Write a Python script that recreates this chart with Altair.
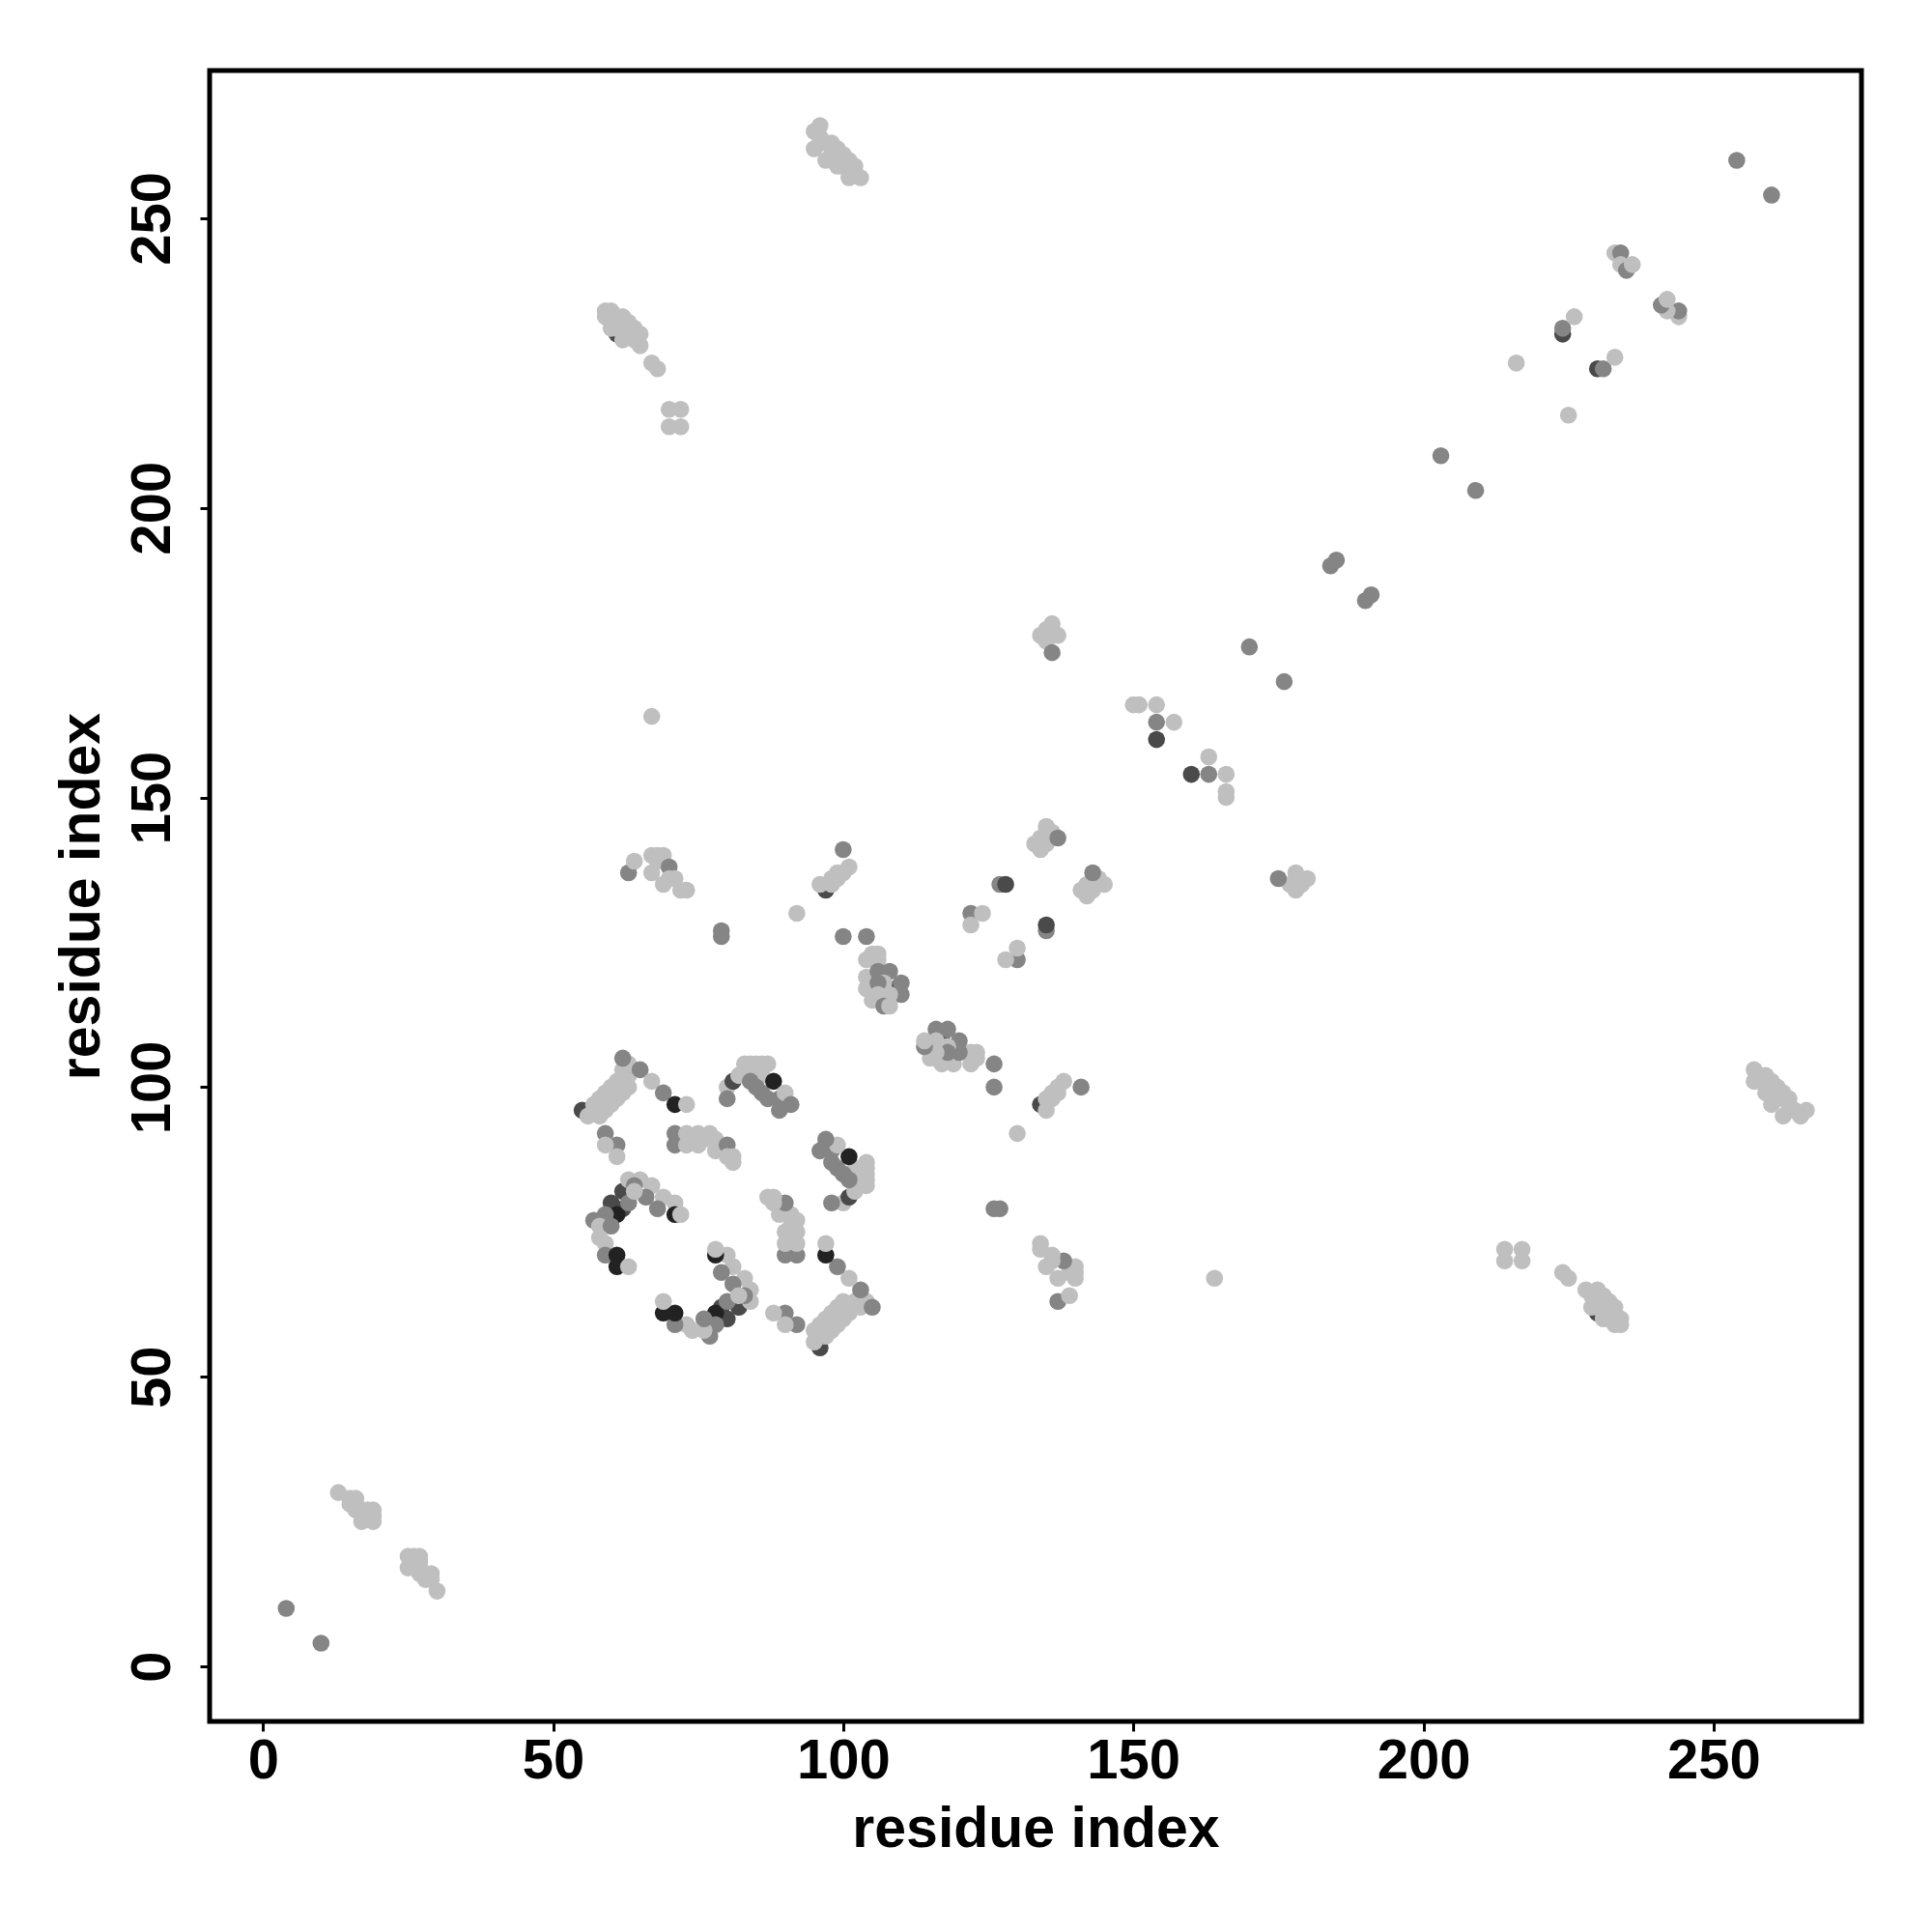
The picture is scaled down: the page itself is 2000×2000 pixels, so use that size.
import altair as alt
import pandas as pd

# Contact map: each contact (i, j, grey level) listed once with i < j; the map is symmetric.
# grey level: 1 = black, 2 = dark grey, 3 = mid grey, 4 = light grey
contacts_nterm = [
    (4, 10, 3),
    (13, 30, 4), (15, 29, 4), (15, 28, 4), (16, 29, 4), (16, 28, 4), (16, 27, 4), (17, 27, 4),
    (17, 25, 4), (18, 27, 4), (19, 27, 4), (19, 26, 4), (19, 25, 4),
]
contacts_a = [
    (55, 96, 2), (56, 95, 4), (57, 96, 4), (58, 97, 4), (59, 98, 4), (60, 99, 4), (61, 100, 4),
    (62, 101, 4), (63, 102, 4), (64, 103, 4), (58, 95, 4), (59, 96, 4), (60, 97, 4), (61, 98, 4),
    (62, 99, 4), (63, 100, 4), (57, 97, 4), (58, 98, 4), (59, 99, 4), (60, 100, 4), (61, 101, 4),
    (62, 103, 4), (63, 104, 4), (62, 105, 3), (65, 103, 3), (67, 101, 4), (69, 99, 3), (71, 97, 1),
    (73, 97, 4),
]
contacts_b = [(59, 92, 3), (61, 90, 3), (59, 90, 4), (61, 88, 4)]
contacts_c = [
    (71, 92, 3), (71, 90, 3), (73, 92, 4), (74, 91, 4), (75, 92, 4), (76, 91, 4), (77, 92, 4),
    (78, 91, 4), (73, 90, 4), (75, 90, 4), (78, 89, 4), (80, 90, 3), (80, 88, 4), (81, 88, 4),
    (81, 87, 4),
]
contacts_d = [
    (80, 100, 4), (80, 98, 3), (81, 101, 2), (82, 102, 4), (83, 104, 4), (84, 104, 4), (85, 104, 4),
    (86, 104, 4), (87, 104, 4), (83, 102, 4), (85, 102, 4), (86, 102, 4), (84, 101, 3), (85, 100, 3),
    (86, 99, 3), (87, 98, 3), (89, 98, 3), (90, 97, 3), (88, 101, 1), (90, 99, 4), (91, 97, 3),
    (89, 96, 3),
]
contacts_f = [
    (62, 82, 2), (62, 79, 2), (60, 80, 2), (61, 78, 1), (59, 78, 3), (57, 77, 3), (63, 80, 3),
    (65, 84, 4), (63, 84, 4), (67, 83, 4), (64, 83, 3), (69, 81, 4), (71, 80, 4), (71, 78, 1),
    (72, 78, 4), (68, 79, 3), (66, 81, 3), (64, 82, 4), (58, 76, 4), (60, 76, 3), (58, 74, 4),
    (59, 73, 4), (59, 71, 3), (61, 71, 1), (61, 69, 1), (63, 69, 4),
]
contacts_mid = [
    (67, 164, 4), (79, 127, 3), (79, 126, 3), (92, 130, 4),
    (63, 137, 3), (64, 139, 4), (67, 140, 4), (68, 140, 4), (68, 139, 4), (67, 137, 4), (69, 140, 4),
    (70, 138, 3), (70, 136, 4), (69, 135, 4), (71, 136, 4), (72, 134, 4), (73, 134, 4),
    (97, 134, 2), (96, 135, 4), (98, 136, 4), (98, 135, 4), (99, 137, 4), (99, 136, 4), (100, 137, 4),
    (101, 138, 4), (100, 141, 3),
    (100, 126, 3), (104, 126, 3),
    (109, 117, 2), (105, 117, 2),
    (104, 122, 4), (104, 119, 4), (104, 117, 4), (105, 123, 4), (106, 123, 4), (106, 122, 4),
    (106, 120, 3), (108, 120, 3), (110, 118, 3), (110, 116, 3), (107, 118, 4), (106, 118, 3),
    (108, 116, 4), (106, 116, 4), (105, 115, 4), (107, 114, 3), (108, 114, 4),
    (122, 130, 3), (124, 130, 4), (122, 128, 4), (127, 135, 3), (128, 135, 2),
    (133, 142, 4), (134, 141, 4), (134, 143, 4), (135, 142, 4), (135, 145, 4), (136, 144, 4),
    (137, 143, 3),
    (134, 178, 4), (135, 177, 4), (135, 179, 4), (136, 180, 4), (137, 178, 4), (136, 175, 3),
    (150, 166, 4), (151, 166, 4), (154, 166, 4), (154, 163, 3), (157, 163, 4), (154, 160, 2),
    (170, 176, 3), (184, 190, 3), (185, 191, 3), (203, 209, 3), (216, 225, 4),
    (224, 230, 2), (224, 231, 3), (226, 233, 4),
    (233, 244, 4), (234, 244, 3), (234, 242, 4), (235, 241, 3), (236, 242, 4), (254, 260, 3),
]
contacts_long = [
    (61, 230, 2),
    (95, 265, 4), (95, 262, 4), (96, 266, 4), (96, 264, 4), (96, 263, 4), (97, 263, 4), (97, 260, 4),
    (98, 263, 4), (98, 261, 4), (99, 262, 4), (99, 259, 4), (100, 261, 4), (100, 259, 4),
    (101, 260, 4), (101, 257, 4), (102, 259, 4), (102, 258, 4), (103, 257, 4),
    (59, 234, 4), (59, 233, 4), (60, 234, 4), (60, 232, 4), (61, 233, 4), (62, 233, 4), (62, 231, 4),
    (63, 232, 4), (63, 230, 4), (64, 231, 4), (64, 229, 4), (65, 230, 4), (65, 228, 4), (61, 231, 4),
    (62, 229, 4), (60, 231, 4),
    (67, 225, 4), (68, 224, 4),
    (70, 217, 4), (72, 217, 4), (70, 214, 4), (72, 214, 4),
]

tick_values = [0, 50, 100, 150, 200, 250]
grey_levels = [1, 2, 3, 4]
grey_colors = ["#222222", "#4a4a4a", "#858585", "#bfbfbf"]

all_contacts = (contacts_nterm + contacts_a + contacts_b + contacts_c + contacts_d
                + contacts_f + contacts_mid + contacts_long)
rows = []
for i, j, lv in all_contacts:
    rows.append({"x": i, "y": j, "level": lv})
for i, j, lv in all_contacts:
    rows.append({"x": j, "y": i, "level": lv})
df = pd.DataFrame(rows)

FONT = "Liberation Sans"

chart = alt.Chart(df).mark_circle(size=310, opacity=1).encode(
    x=alt.X("x:Q",
            scale=alt.Scale(domain=[-9.2, 275.5], nice=False, zero=False),
            axis=alt.Axis(values=tick_values, title="residue index", grid=False, domain=False,
                          tickColor="black", tickWidth=3, tickSize=10,
                          labelFont=FONT, labelFontSize=58, labelFontWeight="bold",
                          labelColor="black", labelPadding=2,
                          titleFont=FONT, titleFontSize=59, titleFontWeight="bold",
                          titleColor="black", titleX=855, titleY=129,
                          titleBaseline="alphabetic", titleAlign="center")),
    y=alt.Y("y:Q",
            scale=alt.Scale(domain=[-9.5, 275.5], nice=False, zero=False),
            axis=alt.Axis(values=tick_values, title="residue index", grid=False, domain=False,
                          tickColor="black", tickWidth=3, tickSize=10,
                          labelFont=FONT, labelFontSize=58, labelFontWeight="bold",
                          labelColor="black", labelAngle=270, labelAlign="center",
                          labelBaseline="alphabetic", labelPadding=32,
                          titleFont=FONT, titleFontSize=59, titleFontWeight="bold",
                          titleColor="black", titleAngle=270, titleX=-115, titleY=854.5,
                          titleBaseline="alphabetic", titleAlign="center")),
    color=alt.Color("level:O", scale=alt.Scale(domain=grey_levels, range=grey_colors), legend=None),
).properties(
    width=1710, height=1709,
    padding={"left": 209, "top": 65, "right": 60, "bottom": 200},
    autosize=alt.AutoSizeParams(type="none"),
).configure_view(stroke="black", strokeWidth=5)

chart.save("out.html", embed_options={"renderer": "svg", "actions": False})
